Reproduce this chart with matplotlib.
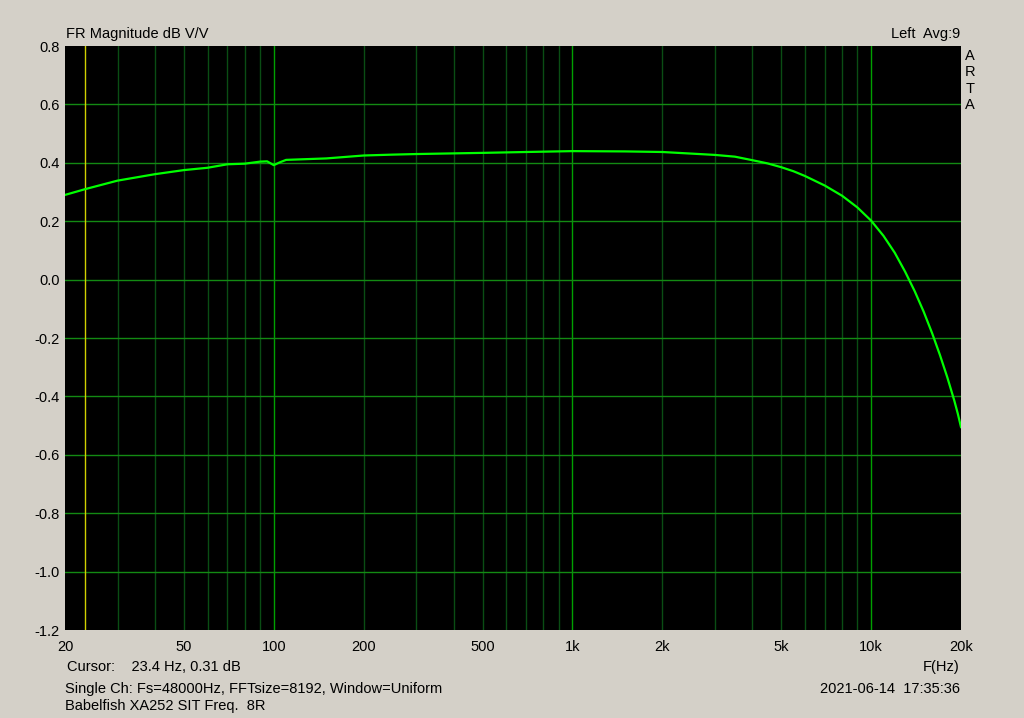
import matplotlib
matplotlib.use("Agg")
import matplotlib.pyplot as plt
import numpy as np

# frequency response
freq_hz = [20, 23.4, 30, 40, 50, 60, 70, 80, 90, 95, 100, 105, 110, 150, 200,
           250, 300, 500, 700, 1000, 1500, 2000, 2450, 3000, 3500, 4000, 4500,
           5000, 5500, 6000, 7000, 8000, 9000, 10000, 11000, 12000, 13000,
           14000, 15000, 16000, 17000, 18000, 19000, 19500, 20000]
mag_db = [0.29, 0.31, 0.339, 0.361, 0.375, 0.383, 0.395, 0.397, 0.404, 0.405,
          0.392, 0.402, 0.41, 0.415, 0.425, 0.428, 0.43, 0.434, 0.437, 0.44,
          0.439, 0.437, 0.432, 0.427, 0.421, 0.409, 0.398, 0.385, 0.371,
          0.355, 0.322, 0.287, 0.247, 0.202, 0.15, 0.092, 0.027, -0.04,
          -0.11, -0.183, -0.258, -0.335, -0.415, -0.458, -0.505]

y_ticks = [0.8, 0.6, 0.4, 0.2, 0.0, -0.2, -0.4, -0.6, -0.8, -1.0, -1.2]
x_ticks = [20, 50, 100, 200, 500, 1000, 2000, 5000, 10000, 20000]
x_tick_labels = ["20", "50", "100", "200", "500", "1k", "2k", "5k", "10k", "20k"]
cursor_hz = 23.4

bg = "#d4d0c8"
plt.rcParams['font.family'] = ['Liberation Sans', 'DejaVu Sans']

fig = plt.figure(figsize=(10.24, 7.18), dpi=100, facecolor=bg)
ax = fig.add_axes([65 / 1024, (718 - 630) / 718, 896 / 1024, 584 / 718])
ax.set_facecolor("black")
ax.set_xscale("log")
ax.set_xlim(20, 20000)
ax.set_ylim(-1.2, 0.8)

# grid: minor decades dark, 100/1k/10k bright, horizontal medium
for dec in [10, 100, 1000, 10000]:
    for m in range(1, 10):
        f = dec * m
        if f <= 20 or f >= 20000:
            continue
        col = "#00a000" if m == 1 else "#0a4d14"
        ax.axvline(f, color=col, lw=1, zorder=1)
for yv in y_ticks[1:-1]:
    ax.axhline(yv, color="#138a13", lw=1, zorder=1)
ax.axvline(cursor_hz, color="#d0d000", lw=1, zorder=2)

ax.plot(freq_hz, mag_db, color="#00ff00", lw=1.6, zorder=3)

ax.set_xticks(x_ticks)
ax.set_xticklabels(x_tick_labels)
ax.xaxis.set_minor_locator(matplotlib.ticker.NullLocator())
ax.set_yticks(y_ticks)
ax.set_yticklabels(["%.1f" % v for v in y_ticks])
ax.tick_params(length=0, labelsize=10.5, colors="black")
ax.tick_params(axis="y", pad=4)
ax.tick_params(axis="x", pad=7)
for s in ax.spines.values():
    s.set_visible(False)

fs = 10.5
def px(x, y, s, **kw):
    fig.text(x / 1024, 1 - y / 718, s, fontsize=fs, va="center", **kw)

px(66, 34, "FR Magnitude dB V/V")
px(960, 34, "Left  Avg:9", ha="right")
for i, ch in enumerate("ARTA"):
    px(970, 56 + i * 16.3, ch, ha="center")
px(67, 667, "Cursor:    23.4 Hz, 0.31 dB")
px(65, 689, "Single Ch: Fs=48000Hz, FFTsize=8192, Window=Uniform")
px(65, 706, "Babelfish XA252 SIT Freq.  8R")
px(960, 667, "F(Hz)", ha="right")
px(960, 689, "2021-06-14  17:35:36", ha="right")

fig.savefig("out.png", dpi=100, facecolor=bg)
